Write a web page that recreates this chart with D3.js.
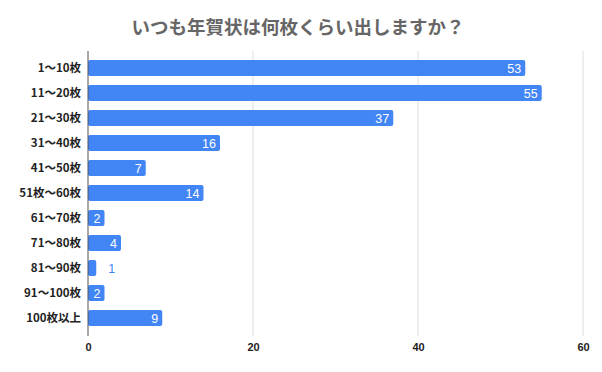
<!DOCTYPE html>
<html>
<head>
<meta charset="utf-8">
<script src="https://cdn.jsdelivr.net/npm/d3@7"></script>
<style>
  body { margin: 0; background: #fff; }
  text { font-family: "Noto Sans CJK JP", "Liberation Sans", sans-serif; }
</style>
</head>
<body>
<svg id="chart"></svg>
<script>
// data
const categories = ["1～10枚", "11～20枚", "21～30枚", "31～40枚", "41～50枚", "51枚～60枚",
  "61～70枚", "71～80枚", "81～90枚", "91～100枚", "100枚以上"];
const counts = [53, 55, 37, 16, 7, 14, 2, 4, 1, 2, 9];
const xTicks = [0, 20, 40, 60];
const title = "いつも年賀状は何枚くらい出しますか？";

const width = 602, height = 372;
const margin = { top: 55.5, right: 19, bottom: 41.5, left: 88 };

const svg = d3.select("#chart").attr("width", width).attr("height", height);

const x = d3.scaleLinear().domain([0, 60]).range([margin.left, width - margin.right]);
const y = d3.scaleBand().domain(categories)
  .range([margin.top, height - margin.bottom])
  .paddingInner(0.36).paddingOuter(0.18);

const inside = d => x(d) - x(0) > 12;

// title
svg.append("text")
  .attr("x", 298).attr("y", 34)
  .attr("text-anchor", "middle")
  .style("font-size", "18.5px").style("font-weight", "bold")
  .attr("fill", "#666")
  .text(title);

// gridlines
svg.append("g").selectAll("line")
  .data(xTicks.filter(d => d > 0))
  .enter().append("line")
  .attr("x1", d => x(d)).attr("x2", d => x(d))
  .attr("y1", 51).attr("y2", 336)
  .attr("stroke", "#ddd").attr("stroke-width", 1);

// x axis
const xAxis = svg.append("g")
  .attr("transform", "translate(0,336)")
  .call(d3.axisBottom(x).tickValues(xTicks).tickSize(0).tickPadding(7));
xAxis.select(".domain").remove();
xAxis.selectAll("text")
  .style("font-family", "'Liberation Sans', Arial, sans-serif")
  .style("font-size", "11px").style("font-weight", "bold").attr("fill", "#222");

// bars
svg.append("g").selectAll("rect")
  .data(counts)
  .enter().append("rect")
  .attr("x", x(0))
  .attr("y", (d, i) => y(categories[i]))
  .attr("width", d => x(d) - x(0))
  .attr("height", y.bandwidth())
  .attr("rx", 2)
  .attr("fill", "#4285f4");

// value labels
svg.append("g").selectAll("text")
  .data(counts)
  .enter().append("text")
  .attr("x", d => inside(d) ? x(d) - 4 : x(d) + 12)
  .attr("y", (d, i) => y(categories[i]) + y.bandwidth() / 2)
  .attr("dy", "0.36em")
  .attr("text-anchor", d => inside(d) ? "end" : "start")
  .style("font-family", "'Liberation Sans', Arial, sans-serif")
  .style("font-size", "12.5px")
  .attr("fill", d => inside(d) ? "#fff" : "#4285f4")
  .text(d => d);

// y axis line
svg.append("line")
  .attr("x1", x(0)).attr("x2", x(0))
  .attr("y1", 51).attr("y2", 336)
  .attr("stroke", "#555").attr("stroke-width", 1);

// category labels
svg.append("g").selectAll("text")
  .data(categories)
  .enter().append("text")
  .attr("x", x(0) - 7)
  .attr("y", d => y(d) + y.bandwidth() / 2)
  .attr("dy", "0.36em")
  .attr("text-anchor", "end")
  .style("font-size", "11.5px").style("font-weight", "bold")
  .attr("fill", "#222")
  .text(d => d);
</script>
</body>
</html>
